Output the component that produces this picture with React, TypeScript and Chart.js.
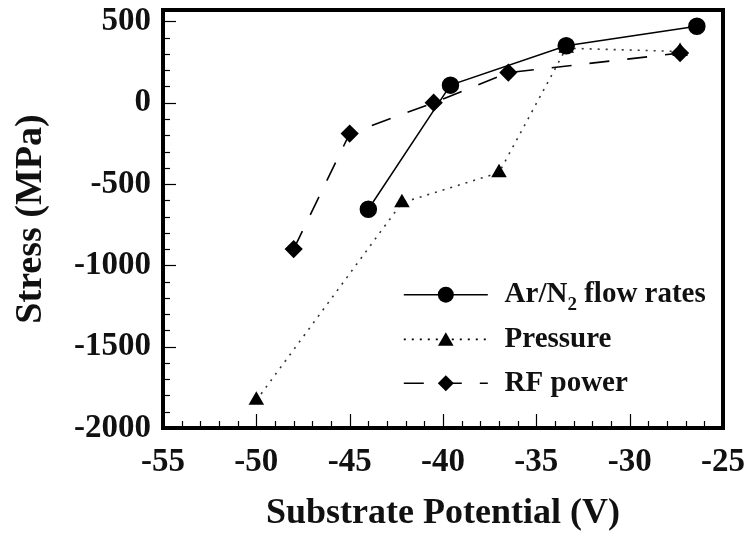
import React, { useEffect, useRef } from "react";
import { Chart, registerables } from "chart.js";

Chart.register(...registerables);

const arX = [-44, -39.6, -33.4, -26.4];
const arY = [-655, 108, 350, 470];
const prX = [-50, -42.2, -37, -33.4, -27.3];
const prY = [-1830, -615, -430, 335, 315];
const rfX = [-48, -45, -40.5, -36.5, -27.3];
const rfY = [-900, -190, 0, 185, 305];

const xTickValues = [-55, -50, -45, -40, -35, -30, -25];
const yTickValues = [-2000, -1500, -1000, -500, 0, 500];

const seriesNames = ["Ar/N", "Pressure", "RF power"];

const FONT = "'Liberation Serif', 'Times New Roman', serif";

function toPts(xs: number[], ys: number[]) {
  return xs.map((x, i) => ({ x, y: ys[i] }));
}

function drawMarker(ctx: CanvasRenderingContext2D, style: string, x: number, y: number, r: number) {
  ctx.beginPath();
  if (style === "circle") {
    ctx.arc(x, y, r, 0, Math.PI * 2);
  } else if (style === "triangle") {
    for (let k = 0; k < 3; k++) {
      const a = (k * 2 * Math.PI) / 3;
      const px = x + Math.sin(a) * r;
      const py = y - Math.cos(a) * r;
      if (k === 0) ctx.moveTo(px, py);
      else ctx.lineTo(px, py);
    }
    ctx.closePath();
  } else {
    ctx.moveTo(x, y - r);
    ctx.lineTo(x + r, y);
    ctx.lineTo(x, y + r);
    ctx.lineTo(x - r, y);
    ctx.closePath();
  }
  ctx.fillStyle = "#000";
  ctx.fill();
}

const framePlugin = {
  id: "frame",
  afterDraw(chart: any) {
    const { ctx, chartArea } = chart;
    const xs = chart.scales.x;
    const ys = chart.scales.y;
    ctx.save();
    ctx.strokeStyle = "#000";
    ctx.lineWidth = 1.2;
    for (let v = -54; v <= -26; v++) {
      const px = Math.round(xs.getPixelForValue(v)) + 0.5;
      const major = v % 5 === 0;
      ctx.beginPath();
      ctx.moveTo(px, chartArea.bottom);
      ctx.lineTo(px, chartArea.bottom - (major ? 14 : 7));
      ctx.stroke();
    }
    for (let v = -1900; v <= 500; v += 100) {
      const py = Math.round(ys.getPixelForValue(v)) + 0.5;
      const major = v % 500 === 0;
      ctx.beginPath();
      ctx.moveTo(chartArea.left, py);
      ctx.lineTo(chartArea.left + (major ? 13 : 7), py);
      ctx.stroke();
    }
    ctx.lineWidth = 4;
    ctx.strokeRect(chartArea.left, chartArea.top, chartArea.right - chartArea.left, chartArea.bottom - chartArea.top);

    const ds = chart.data.datasets;
    const lx0 = xs.getPixelForValue(-42.1);
    const lx1 = xs.getPixelForValue(-37.6);
    const mx = (lx0 + lx1) / 2;
    const tx = xs.getPixelForValue(-36.7);
    const rowY = [ys.getPixelForValue(-1180), ys.getPixelForValue(-1455), ys.getPixelForValue(-1725)];
    ds.forEach((d: any, i: number) => {
      const y = rowY[i];
      ctx.strokeStyle = "#000";
      ctx.lineWidth = d.borderWidth;
      ctx.setLineDash(d.borderDash || []);
      ctx.beginPath();
      ctx.moveTo(lx0, y);
      ctx.lineTo(lx1, y);
      ctx.stroke();
      ctx.setLineDash([]);
      drawMarker(ctx, d.pointStyle, mx, y + (d.pointStyle === "triangle" ? 2 : 0), d.pointRadius);
      ctx.fillStyle = "#111";
      ctx.textBaseline = "middle";
      ctx.textAlign = "left";
      ctx.font = `bold 29px ${FONT}`;
      if (i === 0) {
        ctx.fillText(seriesNames[0], tx, y);
        const w1 = ctx.measureText(seriesNames[0]).width;
        ctx.font = `bold 19px ${FONT}`;
        ctx.fillText("2", tx + w1, y + 10);
        const w2 = ctx.measureText("2").width;
        ctx.font = `bold 29px ${FONT}`;
        ctx.fillText(" flow rates", tx + w1 + w2, y);
      } else {
        ctx.fillText(seriesNames[i], tx, y);
      }
    });
    ctx.restore();
  },
};

export default function App() {
  const ref = useRef<HTMLCanvasElement>(null);
  useEffect(() => {
    if (!ref.current) return;
    const chart = new Chart(ref.current, {
      type: "scatter",
      data: {
        datasets: [
          {
            label: "Ar/N2 flow rates",
            data: toPts(arX, arY),
            showLine: true,
            borderColor: "#000",
            backgroundColor: "#000",
            pointBorderColor: "#000",
            borderWidth: 1.5,
            pointStyle: "circle",
            pointRadius: 8,
            pointHoverRadius: 8,
          },
          {
            label: "Pressure",
            data: toPts(prX, prY),
            showLine: true,
            borderColor: "#333",
            backgroundColor: "#000",
            pointBorderColor: "#000",
            pointBorderWidth: 0,
            borderWidth: 1.6,
            borderDash: [2, 6],
            pointStyle: "triangle",
            pointRadius: 9,
            pointHoverRadius: 9,
          },
          {
            label: "RF power",
            data: toPts(rfX, rfY),
            showLine: true,
            borderColor: "#000",
            backgroundColor: "#000",
            pointBorderColor: "#000",
            borderWidth: 1.6,
            borderDash: [20, 18],
            pointStyle: "rectRot",
            pointRadius: 8,
            pointHoverRadius: 8,
          },
        ],
      },
      options: {
        animation: false,
        responsive: false,
        events: [],
        layout: { padding: { left: 0, right: 26, top: 10, bottom: 0 } },
        plugins: { legend: { display: false }, tooltip: { enabled: false } },
        scales: {
          x: {
            type: "linear",
            min: -55,
            max: -25,
            grid: { display: false, drawTicks: false },
            border: { display: false },
            afterBuildTicks: (s: any) => {
              s.ticks = xTickValues.map((v) => ({ value: v }));
            },
            afterFit: (s: any) => {
              s.height = 107;
              s.paddingLeft = 0;
              s.paddingRight = 0;
            },
            ticks: {
              padding: 15,
              color: "#111",
              font: { family: FONT, size: 33, weight: "bold" },
              maxRotation: 0,
              callback: (v: any) => String(v),
            },
            title: {
              display: true,
              text: "Substrate Potential (V)",
              color: "#111",
              font: { family: FONT, size: 36, weight: "bold", lineHeight: 1.2 },
              padding: { top: 0, bottom: 0 },
            },
          },
          y: {
            type: "linear",
            min: -2000,
            max: 570,
            grid: { display: false, drawTicks: false },
            border: { display: false },
            afterBuildTicks: (s: any) => {
              s.ticks = yTickValues.map((v) => ({ value: v }));
            },
            afterFit: (s: any) => {
              s.width = 163;
              s.paddingTop = 0;
              s.paddingBottom = 0;
            },
            ticks: {
              padding: 12,
              color: "#111",
              font: { family: FONT, size: 33, weight: "bold" },
              callback: (v: any) => String(v),
            },
            title: {
              display: true,
              text: "Stress (MPa)",
              color: "#111",
              font: { family: FONT, size: 38, weight: "bold", lineHeight: 1.2 },
              padding: { top: 8, bottom: 0 },
            },
          },
        },
      },
      plugins: [framePlugin],
    });
    return () => chart.destroy();
  }, []);
  return (
    <div style={{ position: "fixed", left: 0, top: 0, width: 749, height: 535, background: "#fff" }}>
      <canvas ref={ref} width={749} height={535} />
    </div>
  );
}
